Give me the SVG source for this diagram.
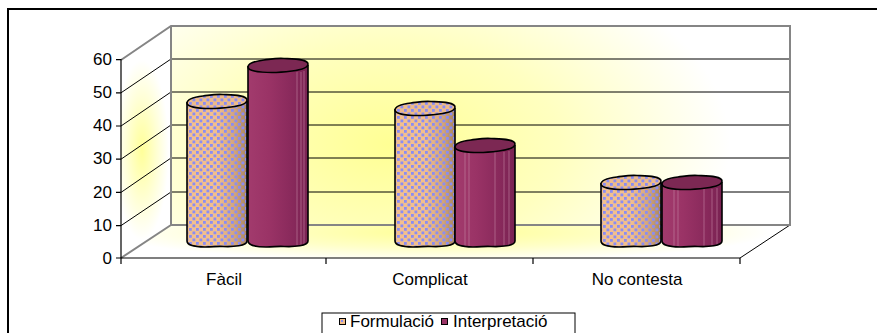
<svg xmlns="http://www.w3.org/2000/svg" xmlns:xlink="http://www.w3.org/1999/xlink" width="877" height="333" viewBox="0 0 877 333">
<style>
text{font-family:"Liberation Sans",Arial,sans-serif;font-size:17px;fill:#000}
.grid{stroke:#000;stroke-width:1;fill:none}
.wallEdge{stroke:#858585;stroke-width:2;fill:none}
.axis{stroke:#000;stroke-width:1.2;fill:none}
.out{fill:none;stroke:#000;stroke-width:1.6;stroke-linejoin:round}
.fBody{fill:url(#fGrad)}
.fDots{fill:url(#dots)}
.fTop{fill:#EDBB8A}
.iBody{fill:url(#iGrad)}
.iTop{fill:#7C2853}
.hl{stroke:#C98AA8;stroke-width:0.8;opacity:0.7}
</style>
<defs>
<radialGradient id="wallG" gradientUnits="userSpaceOnUse" cx="390" cy="145" r="340" gradientTransform="translate(390 145) scale(1 0.6) translate(-390 -145)">
<stop offset="0" stop-color="#FFFF94"/>
<stop offset="0.5" stop-color="#FFFFC0"/>
<stop offset="1" stop-color="#FFFFFF"/>
</radialGradient>
<radialGradient id="sideG" gradientUnits="userSpaceOnUse" cx="142" cy="150" r="90" gradientTransform="translate(142 150) scale(0.3 1) translate(-142 -150)">
<stop offset="0" stop-color="#FFFF99"/>
<stop offset="0.6" stop-color="#FFFFD8"/>
<stop offset="1" stop-color="#FFFFFF"/>
</radialGradient>
<radialGradient id="floorG" gradientUnits="userSpaceOnUse" cx="440" cy="232" r="330" gradientTransform="translate(440 232) scale(1 0.09) translate(-440 -232)">
<stop offset="0" stop-color="#FFFF94"/>
<stop offset="0.55" stop-color="#FFFFC8"/>
<stop offset="1" stop-color="#FFFFFF"/>
</radialGradient>
<linearGradient id="fGrad" x1="0" y1="0" x2="1" y2="0">
<stop offset="0" stop-color="#F3C08E"/>
<stop offset="0.5" stop-color="#F2BF8C"/>
<stop offset="0.8" stop-color="#D2A47A"/>
<stop offset="1" stop-color="#A8855F"/>
</linearGradient>
<linearGradient id="iGrad" x1="0" y1="0" x2="1" y2="0">
<stop offset="0" stop-color="#A23B6D"/>
<stop offset="0.35" stop-color="#9A3366"/>
<stop offset="0.75" stop-color="#88295B"/>
<stop offset="1" stop-color="#792252"/>
</linearGradient>
<pattern id="dots" patternUnits="userSpaceOnUse" width="7" height="7">
<rect x="0" y="0" width="2.8" height="2.8" fill="#8A8CF4"/>
<rect x="3.5" y="3.5" width="2.8" height="2.8" fill="#8A8CF4"/>
</pattern>
<path id="top" d="M-30,1 C-30,-3 -22,-5 -14,-6 C-6,-7 -2,-8 6,-7.5 C16,-7 30,-7 30,-2 C30,2 22,4 14,5 C6,6 2,6.5 -6,6.5 C-18,6.5 -30,5 -30,1 Z"/>
</defs>

<rect x="8" y="9" width="880" height="340" fill="#FFFFFF" stroke="#000" stroke-width="2"/>

<g id="walls">
<rect x="171" y="26" width="619" height="199" fill="url(#wallG)"/>
<polygon points="121,60 171,26 171,225 121,258" fill="url(#sideG)"/>
<polygon points="121,258 171,225 790,225 740,258" fill="url(#floorG)"/>
<g class="grid">
<line x1="171" y1="59" x2="790" y2="59"/>
<line x1="171" y1="92" x2="790" y2="92"/>
<line x1="171" y1="125" x2="790" y2="125"/>
<line x1="171" y1="158" x2="790" y2="158"/>
<line x1="171" y1="192" x2="790" y2="192"/>
<line x1="121" y1="92.8" x2="171" y2="59"/>
<line x1="121" y1="126" x2="171" y2="92"/>
<line x1="121" y1="159.2" x2="171" y2="125"/>
<line x1="121" y1="192.4" x2="171" y2="158"/>
<line x1="121" y1="225.6" x2="171" y2="192"/>
<line x1="740" y1="258" x2="790" y2="225"/>
</g>
<path class="wallEdge" d="M121,60 L171,26 H790 V225 H171 V26 M171,225 L121,258"/>
</g>

<g id="axes">
<path class="axis" d="M121,59 V258 H740 M116,59.6 H121 M116,92.8 H121 M116,126 H121 M116,159.2 H121 M116,192.4 H121 M116,225.6 H121 M116,258 H121 M326,258 V264 M533,258 V264 M740,258 V264 M121,258 V264"/>
<g text-anchor="end">
<text x="112" y="65">60</text>
<text x="112" y="98">50</text>
<text x="112" y="131">40</text>
<text x="112" y="164">30</text>
<text x="112" y="198">20</text>
<text x="112" y="231">10</text>
<text x="112" y="264">0</text>
</g>
<g text-anchor="middle">
<text x="224" y="285">Fàcil</text>
<text x="430" y="285">Complicat</text>
<text x="637" y="285">No contesta</text>
</g>
</g>

<g id="bar-facil-formulacio" transform="translate(217 102)">
<path class="fBody" d="M-30,0 V139 C-30,143 -22,145 -12,145 C-4,145 0,144 6,144.5 C16,145 30,144 30,139 V-1 Z"/>
<path class="fDots" d="M-30,0 V139 C-30,143 -22,145 -12,145 C-4,145 0,144 6,144.5 C16,145 30,144 30,139 V-1 Z"/>
<path class="out" d="M-30,0 V139 C-30,143 -22,145 -12,145 C-4,145 0,144 6,144.5 C16,145 30,144 30,139 V-1"/>
<use xlink:href="#top" class="fTop"/>
<use xlink:href="#top" class="fDots"/>
<use xlink:href="#top" class="out"/>
</g>
<g id="bar-facil-interpretacio" transform="translate(278 66)">
<path class="iBody" d="M-30,0 V175 C-30,179 -22,181 -12,181 C-4,181 0,180 6,180.5 C16,181 30,180 30,175 V-1 Z"/>
<g class="hl"><line x1="19" y1="6" x2="19" y2="179"/><line x1="23" y1="6" x2="23" y2="179"/><line x1="26" y1="5" x2="26" y2="178"/></g>
<path class="out" d="M-30,0 V175 C-30,179 -22,181 -12,181 C-4,181 0,180 6,180.5 C16,181 30,180 30,175 V-1"/>
<use xlink:href="#top" class="iTop"/>
<use xlink:href="#top" class="out"/>
</g>

<g id="bar-complicat-formulacio" transform="translate(425 109)">
<path class="fBody" d="M-30,0 V132 C-30,136 -22,138 -12,138 C-4,138 0,137 6,137.5 C16,138 30,137 30,132 V-1 Z"/>
<path class="fDots" d="M-30,0 V132 C-30,136 -22,138 -12,138 C-4,138 0,137 6,137.5 C16,138 30,137 30,132 V-1 Z"/>
<path class="out" d="M-30,0 V132 C-30,136 -22,138 -12,138 C-4,138 0,137 6,137.5 C16,138 30,137 30,132 V-1"/>
<use xlink:href="#top" class="fTop"/>
<use xlink:href="#top" class="fDots"/>
<use xlink:href="#top" class="out"/>
</g>
<g id="bar-complicat-interpretacio" transform="translate(485 146)">
<path class="iBody" d="M-30,0 V95 C-30,99 -22,101 -12,101 C-4,101 0,100 6,100.5 C16,101 30,100 30,95 V-1 Z"/>
<g class="hl"><line x1="-20" y1="6" x2="-20" y2="100"/><line x1="-16" y1="6" x2="-16" y2="100"/><line x1="10" y1="6" x2="10" y2="100"/><line x1="19" y1="6" x2="19" y2="100"/><line x1="24" y1="5" x2="24" y2="99"/></g>
<path class="out" d="M-30,0 V95 C-30,99 -22,101 -12,101 C-4,101 0,100 6,100.5 C16,101 30,100 30,95 V-1"/>
<use xlink:href="#top" class="iTop"/>
<use xlink:href="#top" class="out"/>
</g>

<g id="bar-nocontesta-formulacio" transform="translate(631 183)">
<path class="fBody" d="M-30,0 V58 C-30,62 -22,64 -12,64 C-4,64 0,63 6,63.5 C16,64 30,63 30,58 V-1 Z"/>
<path class="fDots" d="M-30,0 V58 C-30,62 -22,64 -12,64 C-4,64 0,63 6,63.5 C16,64 30,63 30,58 V-1 Z"/>
<path class="out" d="M-30,0 V58 C-30,62 -22,64 -12,64 C-4,64 0,63 6,63.5 C16,64 30,63 30,58 V-1"/>
<use xlink:href="#top" class="fTop"/>
<use xlink:href="#top" class="fDots"/>
<use xlink:href="#top" class="out"/>
</g>
<g id="bar-nocontesta-interpretacio" transform="translate(692 183)">
<path class="iBody" d="M-30,0 V58 C-30,62 -22,64 -12,64 C-4,64 0,63 6,63.5 C16,64 30,63 30,58 V-1 Z"/>
<g class="hl"><line x1="-18" y1="6" x2="-18" y2="63"/><line x1="-14" y1="6" x2="-14" y2="63"/><line x1="12" y1="6" x2="12" y2="63"/><line x1="20" y1="6" x2="20" y2="63"/><line x1="25" y1="5" x2="25" y2="62"/></g>
<path class="out" d="M-30,0 V58 C-30,62 -22,64 -12,64 C-4,64 0,63 6,63.5 C16,64 30,63 30,58 V-1"/>
<use xlink:href="#top" class="iTop"/>
<use xlink:href="#top" class="out"/>
</g>

<g id="legend">
<rect x="322" y="313" width="253" height="30" fill="#FFFFFF" stroke="#000" stroke-width="1"/>
<rect x="339.5" y="318.5" width="6" height="6" fill="#F2BF8C" stroke="#000" stroke-width="1"/>
<rect x="341" y="320" width="2" height="2" fill="#8A8CF4"/>
<text x="350" y="327">Formulació</text>
<rect x="441.5" y="318.5" width="6" height="6" fill="#993366" stroke="#000" stroke-width="1"/>
<text x="453" y="327">Interpretació</text>
</g>
</svg>
